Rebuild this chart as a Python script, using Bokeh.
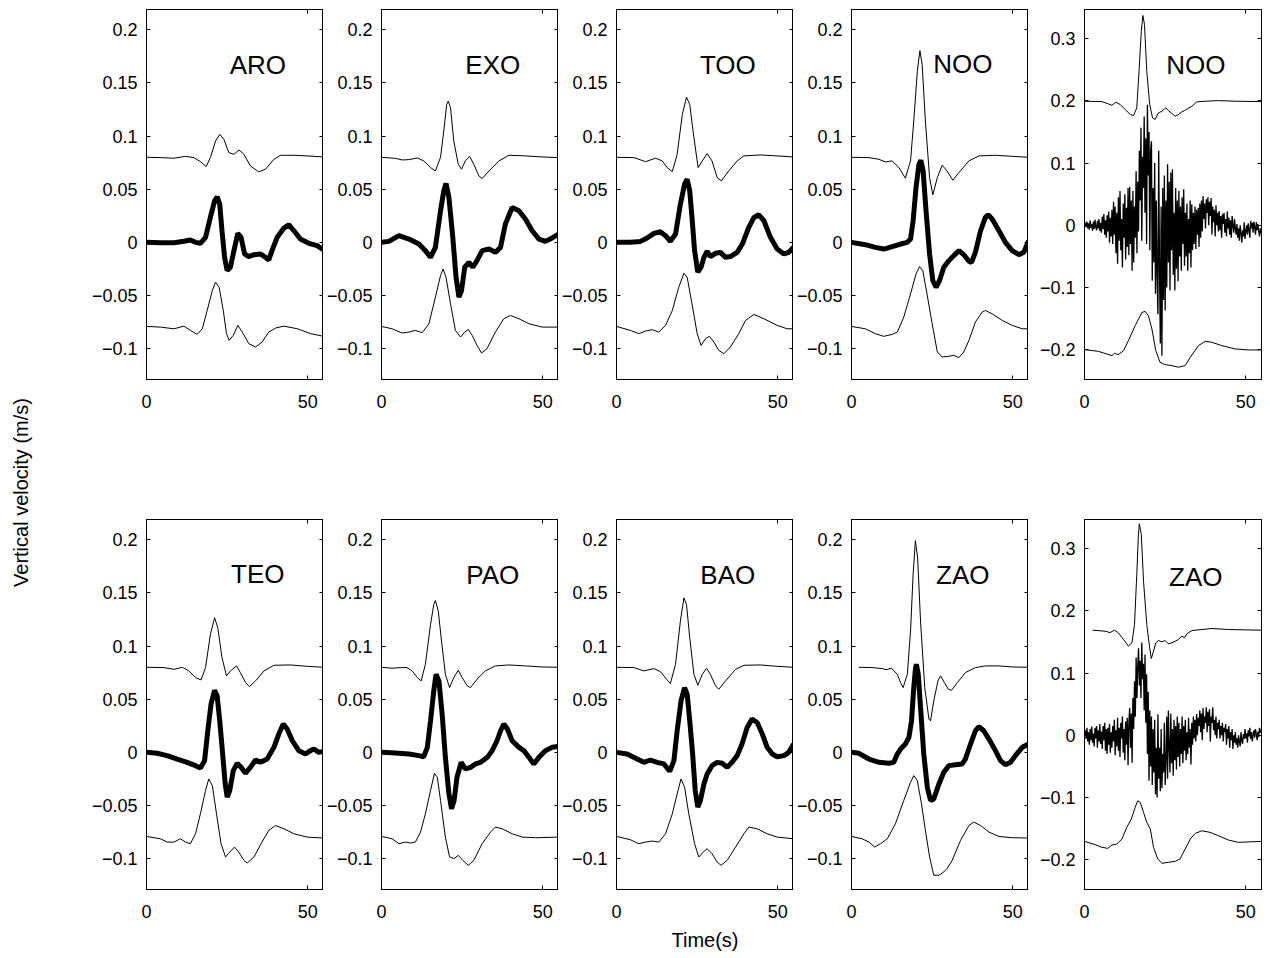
import math
import numpy as np
from bokeh.plotting import figure
from bokeh.layouts import row, column
from bokeh.models import Range1d, FixedTicker, LinearAxis
from bokeh.embed import file_html
from bokeh.resources import INLINE
from bokeh.core.properties import value

FONT = "Liberation Sans"

# ---------------- tick values / labels ----------------
xticks = [0, 50]
xtick_labels = ["0", "50"]
yticks_main = [-0.1, -0.05, 0, 0.05, 0.1, 0.15, 0.2]
ytick_labels_main = ["\u22120.1", "\u22120.05", "0", "0.05", "0.1", "0.15", "0.2"]
yticks_wide = [-0.2, -0.1, 0, 0.1, 0.2, 0.3]
ytick_labels_wide = ["\u22120.2", "\u22120.1", "0", "0.1", "0.2", "0.3"]

# ---------------- ARO ----------------
aro_up_t = [0, 4.3, 8.5, 12.1, 14.7, 16.7, 18.5, 19.8, 21.4, 22.7, 24.0, 25.5, 27.1, 28.7, 30.2, 32.2, 34.8, 36.9, 39.5, 41.5, 45.7, 49.8, 54.9]
aro_up_v = [0.080, 0.0797, 0.0791, 0.0809, 0.0797, 0.0759, 0.0713, 0.0797, 0.0953, 0.1016, 0.0969, 0.0844, 0.0828, 0.0869, 0.0828, 0.0719, 0.0663, 0.0688, 0.0781, 0.0819, 0.0819, 0.0813, 0.0803]
aro_mid_t = [0, 4.3, 8.5, 11.6, 13.6, 15.2, 16.7, 18.3, 19.8, 21.1, 21.9, 22.7, 23.4, 24.2, 25.0, 26.0, 27.1, 28.3, 29.3, 30.4, 31.7, 33.3, 35.3, 36.9, 37.9, 38.9, 40.5, 42.6, 44.1, 45.7, 47.7, 50.3, 52.9, 54.9]
aro_mid_v = [0, -0.0003, -0.0003, 0.001, 0.0022, 0, -0.0009, 0.0047, 0.0234, 0.0391, 0.0428, 0.0359, 0.0109, -0.0141, -0.0266, -0.0234, -0.0078, 0.0084, 0.0047, -0.0109, -0.0134, -0.0116, -0.0109, -0.0141, -0.0166, -0.0078, 0.0047, 0.0134, 0.0166, 0.0109, 0.0031, -0.0009, -0.0031, -0.0072]
aro_lo_t = [0, 4.3, 8.5, 11.6, 13.6, 15.7, 17.3, 18.8, 20.4, 21.4, 22.5, 23.8, 24.8, 25.6, 26.9, 28.3, 29.7, 31.7, 33.8, 35.8, 37.9, 40.0, 42.6, 46.8, 50.9, 54.9]
aro_lo_v = [-0.0791, -0.0797, -0.0813, -0.0788, -0.0828, -0.0866, -0.0813, -0.0641, -0.0453, -0.0375, -0.0422, -0.0641, -0.0859, -0.0922, -0.0875, -0.0781, -0.0844, -0.0953, -0.0984, -0.0938, -0.0844, -0.0806, -0.0788, -0.0813, -0.0859, -0.0884]

# ---------------- EXO ----------------
exo_up_t = [0, 4.3, 6.4, 8.5, 11.1, 13.1, 15.2, 16.7, 18.3, 19.3, 20.2, 20.7, 21.4, 22.4, 23.8, 24.8, 26.0, 27.3, 28.6, 30.2, 31.2, 33.3, 36.4, 39.5, 44.6, 49.8, 54.9]
exo_up_v = [0.080, 0.079, 0.0775, 0.0778, 0.0794, 0.0766, 0.0703, 0.0672, 0.080, 0.1047, 0.1297, 0.1328, 0.1266, 0.0953, 0.0734, 0.0688, 0.0766, 0.0809, 0.0734, 0.0625, 0.060, 0.0672, 0.0766, 0.0819, 0.0813, 0.0803, 0.0797]
exo_mid_t = [0, 2.3, 5.4, 8.5, 11.6, 13.6, 15.2, 16.7, 18.3, 19.3, 20.0, 20.9, 22.1, 23.1, 24.0, 24.8, 25.8, 27.1, 28.3, 29.6, 31.2, 33.3, 35.3, 36.9, 38.4, 40.5, 42.6, 44.6, 46.7, 48.8, 50.8, 52.9, 54.9]
exo_mid_v = [0, 0.0009, 0.0063, 0.0031, -0.0016, -0.0078, -0.0141, -0.0047, 0.0297, 0.0484, 0.0553, 0.0422, 0.0047, -0.0328, -0.0516, -0.0453, -0.0234, -0.0188, -0.0234, -0.0172, -0.0078, -0.0063, -0.0094, -0.0047, 0.0172, 0.0328, 0.0297, 0.0219, 0.0109, 0.0031, 0.0009, 0.0041, 0.0078]
exo_lo_t = [0, 3.3, 6.4, 8.5, 10.5, 12.6, 14.7, 16.7, 18.3, 19.1, 20.0, 21.4, 22.9, 24.5, 25.8, 26.9, 28.1, 29.6, 31.0, 32.7, 35.3, 37.9, 40.0, 42.6, 45.7, 49.8, 54.9]
exo_lo_v = [-0.0791, -0.0813, -0.0853, -0.0844, -0.0828, -0.085, -0.0766, -0.0516, -0.0313, -0.025, -0.0328, -0.0578, -0.0828, -0.0891, -0.0844, -0.0819, -0.0875, -0.0969, -0.1041, -0.1, -0.0844, -0.0719, -0.0688, -0.0719, -0.0766, -0.0797, -0.0797]

# ---------------- TOO ----------------
too_up_t = [0, 5.4, 9.0, 12.1, 14.2, 15.7, 17.3, 18.8, 20.4, 21.7, 22.7, 24.0, 25.3, 26.6, 28.1, 29.6, 31.2, 32.5, 34.8, 37.4, 39.5, 44.6, 49.8, 54.9]
too_up_v = [0.08, 0.0797, 0.0759, 0.0791, 0.0766, 0.0703, 0.0666, 0.0828, 0.1203, 0.1366, 0.1297, 0.0984, 0.0703, 0.0766, 0.0834, 0.0766, 0.0609, 0.0578, 0.0672, 0.0766, 0.0813, 0.0822, 0.0813, 0.0803]
too_mid_t = [0, 4.3, 7.4, 9.5, 11.6, 13.6, 15.2, 16.7, 18.3, 19.8, 21.1, 21.9, 22.7, 23.4, 24.2, 25.2, 26.2, 27.1, 28.1, 29.1, 30.7, 32.2, 33.8, 35.3, 37.4, 39.0, 41.0, 42.6, 44.1, 45.7, 47.7, 49.8, 51.9, 53.4, 54.9]
too_mid_v = [0, 0, 0.0009, 0.0041, 0.0084, 0.01, 0.0063, 0.0009, 0.0078, 0.0359, 0.0547, 0.0594, 0.0484, 0.0234, -0.0078, -0.0281, -0.0234, -0.0141, -0.0084, -0.0134, -0.0103, -0.0094, -0.0141, -0.0134, -0.0094, -0.0016, 0.0141, 0.0234, 0.0259, 0.0203, 0.0047, -0.0063, -0.0109, -0.0094, -0.0047]
too_lo_t = [0, 4.3, 6.9, 9.0, 11.1, 13.1, 15.2, 17.3, 19.3, 20.9, 21.9, 23.4, 25.0, 26.2, 27.6, 28.8, 30.2, 31.7, 33.3, 35.3, 37.9, 40.0, 42.6, 45.7, 49.8, 52.9, 54.9]
too_lo_v = [-0.0791, -0.0828, -0.0859, -0.0834, -0.0822, -0.0844, -0.0781, -0.0641, -0.0422, -0.0291, -0.0328, -0.0578, -0.0859, -0.0969, -0.0906, -0.0884, -0.0938, -0.1016, -0.1047, -0.0984, -0.0859, -0.0734, -0.0678, -0.0719, -0.0781, -0.0813, -0.0813]

# ---------------- NOO ----------------
noo_up_t = [0, 5.4, 8.5, 10.5, 12.6, 14.7, 16.7, 18.3, 19.3, 20.4, 21.2, 21.9, 22.9, 24.2, 25.2, 26.6, 28.1, 29.6, 31.4, 33.3, 36.4, 39.5, 44.6, 49.8, 54.9]
noo_up_v = [0.08, 0.0797, 0.0781, 0.0756, 0.0766, 0.0703, 0.0603, 0.0766, 0.1141, 0.1609, 0.1803, 0.1672, 0.1141, 0.0609, 0.0447, 0.0609, 0.0725, 0.0672, 0.0584, 0.0656, 0.0766, 0.0813, 0.0819, 0.0809, 0.08]
noo_mid_t = [0, 4.3, 7.4, 10.0, 12.6, 15.2, 17.3, 18.3, 19.1, 20.0, 20.9, 21.5, 22.2, 23.1, 24.2, 25.2, 26.2, 27.3, 28.6, 30.2, 31.7, 33.3, 34.8, 36.4, 37.2, 38.4, 40.0, 41.5, 42.4, 43.6, 45.7, 47.7, 49.8, 51.9, 53.4, 54.9]
noo_mid_v = [0, -0.0022, -0.0047, -0.0063, -0.0041, -0.0016, 0, 0.0031, 0.0203, 0.0516, 0.0734, 0.0772, 0.0672, 0.0297, -0.0109, -0.0359, -0.0422, -0.0359, -0.0234, -0.0172, -0.0125, -0.0078, -0.0116, -0.0178, -0.0188, -0.0094, 0.0109, 0.0234, 0.0259, 0.0219, 0.0109, 0, -0.0078, -0.0116, -0.0094, 0.0016]
noo_lo_t = [0, 4.3, 7.4, 10.0, 12.6, 14.2, 16.2, 18.3, 20.0, 21.1, 22.1, 23.4, 25.0, 26.6, 28.1, 30.2, 31.7, 33.3, 34.8, 36.4, 38.4, 40.5, 41.5, 43.6, 46.7, 49.8, 52.9, 54.9]
noo_lo_v = [-0.0791, -0.0813, -0.0859, -0.0884, -0.0866, -0.0844, -0.0703, -0.0484, -0.0297, -0.0228, -0.0266, -0.0484, -0.0766, -0.1031, -0.1078, -0.1072, -0.1063, -0.1084, -0.1031, -0.0922, -0.075, -0.0656, -0.0641, -0.0672, -0.0734, -0.0781, -0.0813, -0.0813]

# ---------------- NOO (raw record, right column) ----------------
noor_up_t = [0, 5.4, 7.4, 8.5, 9.7, 11.1, 12.6, 14.2, 15.2, 16.2, 16.9, 17.6, 18.1, 18.6, 19.3, 20.2, 21.1, 21.9, 22.9, 24.0, 25.2, 26.0, 26.9, 28.1, 29.1, 30.2, 31.0, 32.0, 33.3, 34.8, 37.4, 41.5, 46.7, 54.9]
noor_up_v = [0.1995, 0.1989, 0.1952, 0.1930, 0.1979, 0.1941, 0.1861, 0.1781, 0.1765, 0.1888, 0.2476, 0.3118, 0.3374, 0.3225, 0.2476, 0.1941, 0.1727, 0.1701, 0.1807, 0.1834, 0.1888, 0.1845, 0.1807, 0.1754, 0.1781, 0.1824, 0.1845, 0.1877, 0.1914, 0.1984, 0.1995, 0.2005, 0.1995, 0.1989]
noor_dt = 0.25
noor_mid_mms = [0, 4, -3, 6, -5, 3, -7, 8, -4, 2, -9, 6, -6, 9, -3, -8, 7, -5, 10, -9, 4,
                -12, 14, -6, 18, -15, 8, -20, 16, -10, 22, -28, 12, -18, 25,
                -30, 38, -15, 30, -45, 20, -62, 45, -25, 55, -40, 10, -68, 35, -20, 50, -55, 28, -35, 60,
                -48, 62, -30, 40, -73, 55, -60, 30, -20, 87, -45, 70,
                -10, 120, 40, 157, -25, 110, 60, 175, 20, 140, -30, 194, 80, 150, -40, 120,
                135, -89, 60, -60, 100, -110, 40, -80,
                -143, 120, -70, -190, 30, -210, 60, -120, 80, -137,
                40, -100, 98, -60, 70, -105, 85, -40, 90, -80, 20, -105, 60, -70, 40, -90,
                55, -50, 30, -73, 45, -30, 58, -65, 20, -50, 35, -73, 10, -45, 40, -68,
                34, -40, 20, -30, 30, -38, 25, -15, 28, -35, 35, -20, 40, -10,
                47, 10, 35, -5, 42, 20, 45, 0, 38, 15, 44, -15, 30, 5, 25, -18, 32, 0, 20, -10,
                23, -8, 15, -20, 18, 2, 20, -12, 10, -18, 22, -5, 12, -15, 8, -20, 15, 0, -12, 10, -5,
                -15, 2, -20, -5, -25, 0, -12, -28, -8, -18, 5, -22, -10, 0, -15, 3, -8, -20, 7, -5, 4, -12, 6, -3, -15, 5, -8, 2, -10, -18, -5, -12, -8]
noor_lo_t = [0, 4.3, 6.9, 8.5, 9.3, 10.5, 12.1, 13.6, 15.7, 17.8, 18.8, 19.8, 20.9, 22.1, 23.4, 25.0, 27.1, 29.1, 31.2, 32.8, 35.3, 37.4, 39.5, 42.6, 46.7, 50.8, 54.9]
noor_lo_v = [-0.2, -0.2027, -0.207, -0.2096, -0.2059, -0.208, -0.2016, -0.1856, -0.1615, -0.1401, -0.1385, -0.1455, -0.1668, -0.2016, -0.2203, -0.2241, -0.2257, -0.2283, -0.2257, -0.2123, -0.1936, -0.1866, -0.1882, -0.1936, -0.1989, -0.2005, -0.2005]

# ---------------- TEO ----------------
teo_up_t = [0, 5.4, 8.5, 11.1, 13.1, 15.2, 16.9, 18.3, 19.8, 21.1, 22.1, 23.4, 24.8, 26.0, 27.9, 29.1, 30.7, 31.9, 33.8, 36.4, 39.5, 44.6, 49.8, 54.9]
teo_up_v = [0.08, 0.0797, 0.0781, 0.08, 0.0766, 0.0703, 0.0681, 0.0797, 0.1109, 0.1266, 0.1172, 0.0891, 0.0719, 0.0766, 0.0813, 0.075, 0.0656, 0.0619, 0.0672, 0.0766, 0.0819, 0.0822, 0.0809, 0.08]
teo_mid_t = [0, 3.3, 6.4, 9.5, 12.6, 15.2, 16.7, 18.0, 19.0, 20.0, 21.1, 21.9, 22.7, 23.6, 24.4, 25.0, 25.8, 26.9, 28.1, 29.3, 30.7, 32.2, 33.8, 35.3, 37.4, 39.5, 41.0, 42.4, 43.6, 45.2, 47.2, 49.3, 50.8, 51.9, 53.4, 54.9]
teo_mid_v = [0, -0.0009, -0.0031, -0.0063, -0.0094, -0.0125, -0.0147, -0.0078, 0.0203, 0.0453, 0.0584, 0.0531, 0.0297, -0.0016, -0.0297, -0.0422, -0.0359, -0.0172, -0.0103, -0.0141, -0.0197, -0.0141, -0.0072, -0.0094, -0.0063, 0.0047, 0.0172, 0.0266, 0.0219, 0.0109, 0.0016, -0.0016, 0.0016, 0.0031, 0, 0.0009]
teo_lo_t = [0, 4.3, 6.4, 8.5, 10.5, 12.1, 13.6, 15.2, 16.7, 18.3, 19.3, 20.4, 21.7, 23.1, 24.5, 25.8, 27.3, 28.6, 30.2, 31.2, 33.3, 35.8, 37.9, 40.0, 42.6, 45.7, 49.8, 54.9]
teo_lo_v = [-0.0791, -0.0813, -0.0844, -0.0844, -0.0813, -0.0844, -0.0859, -0.0766, -0.0578, -0.0359, -0.025, -0.0313, -0.0578, -0.0859, -0.0984, -0.0938, -0.0891, -0.0938, -0.1016, -0.1041, -0.0984, -0.0844, -0.0734, -0.0688, -0.0719, -0.0766, -0.0797, -0.0806]

# ---------------- PAO ----------------
pao_up_t = [0, 3.3, 5.9, 7.9, 9.5, 11.1, 12.3, 13.6, 15.2, 16.2, 16.7, 17.6, 18.6, 19.8, 21.1, 22.4, 23.8, 25.0, 26.6, 27.6, 29.6, 32.2, 35.3, 39.5, 44.6, 49.8, 54.9]
pao_up_v = [0.08, 0.0791, 0.0797, 0.0797, 0.0766, 0.0703, 0.0672, 0.0828, 0.1203, 0.1391, 0.1428, 0.1328, 0.1047, 0.0734, 0.0609, 0.0703, 0.0772, 0.0703, 0.0625, 0.0609, 0.0688, 0.0766, 0.0813, 0.0822, 0.0813, 0.0803, 0.08]
pao_mid_t = [0, 4.3, 8.5, 11.6, 13.1, 14.2, 15.2, 16.2, 16.9, 17.8, 18.8, 19.8, 20.9, 21.7, 22.5, 23.4, 24.7, 26.0, 27.6, 29.1, 30.7, 32.8, 34.3, 35.8, 36.9, 37.9, 39.0, 40.5, 42.6, 44.1, 45.7, 47.2, 48.8, 50.8, 52.9, 54.9]
pao_mid_v = [0, -0.0006, -0.0016, -0.0031, -0.0041, 0.0047, 0.0297, 0.0578, 0.0734, 0.0672, 0.0359, -0.0047, -0.0391, -0.0531, -0.0453, -0.0234, -0.0094, -0.0156, -0.0141, -0.0109, -0.0094, -0.0047, 0.0016, 0.0109, 0.0203, 0.0266, 0.0219, 0.0109, 0.0047, 0.0016, -0.0047, -0.0109, -0.0047, 0.0016, 0.0047, 0.0056]
pao_lo_t = [0, 3.3, 5.4, 7.4, 9.0, 10.5, 12.1, 13.6, 15.2, 16.4, 17.3, 18.3, 19.8, 21.1, 22.4, 23.8, 25.2, 26.9, 28.6, 31.2, 33.8, 35.3, 37.4, 40.5, 43.6, 47.7, 54.9]
pao_lo_v = [-0.0791, -0.0813, -0.0859, -0.0844, -0.0853, -0.0844, -0.075, -0.0578, -0.0359, -0.0197, -0.0234, -0.0453, -0.0797, -0.0984, -0.1, -0.0969, -0.1016, -0.1063, -0.1016, -0.0859, -0.075, -0.0703, -0.0719, -0.0766, -0.0797, -0.0803, -0.0797]

# ---------------- BAO ----------------
bao_up_t = [0, 5.4, 8.5, 11.6, 13.6, 15.5, 16.7, 18.3, 19.8, 20.9, 21.7, 22.7, 24.0, 25.2, 26.6, 27.9, 29.1, 30.7, 31.7, 33.8, 36.9, 39.5, 44.6, 49.8, 54.9]
bao_up_v = [0.08, 0.0797, 0.0766, 0.0788, 0.0759, 0.0688, 0.0647, 0.0828, 0.1234, 0.1453, 0.1391, 0.1078, 0.0734, 0.0631, 0.0734, 0.0791, 0.0734, 0.0625, 0.0594, 0.0672, 0.0781, 0.0819, 0.0822, 0.0809, 0.08]
bao_mid_t = [0, 3.3, 6.4, 8.5, 10.5, 12.6, 14.7, 16.5, 17.8, 18.8, 20.0, 21.1, 21.9, 22.7, 23.6, 24.4, 25.2, 26.0, 27.1, 28.1, 29.6, 31.2, 32.8, 34.3, 35.8, 37.4, 38.9, 40.5, 42.0, 43.6, 45.2, 46.7, 48.3, 49.8, 51.9, 53.4, 54.9]
bao_mid_v = [0, -0.0016, -0.0063, -0.0094, -0.0072, -0.0094, -0.0109, -0.0178, -0.0078, 0.0203, 0.0484, 0.0609, 0.0547, 0.0297, -0.0016, -0.0359, -0.0516, -0.0453, -0.0297, -0.0203, -0.0125, -0.0094, -0.0103, -0.0141, -0.0094, -0.0031, 0.0078, 0.0234, 0.0313, 0.0281, 0.0172, 0.0047, -0.0016, -0.0041, -0.0031, 0, 0.0078]
bao_lo_t = [0, 4.3, 6.9, 9.0, 11.1, 13.1, 15.2, 17.3, 18.8, 20.0, 21.1, 22.4, 24.2, 25.5, 26.9, 28.1, 29.6, 31.2, 32.4, 34.3, 36.9, 39.5, 41.0, 43.6, 46.7, 49.8, 54.9]
bao_lo_v = [-0.0791, -0.0822, -0.0859, -0.0844, -0.0834, -0.0844, -0.0766, -0.0578, -0.0391, -0.025, -0.0328, -0.0578, -0.0859, -0.0984, -0.0938, -0.0906, -0.0953, -0.1031, -0.1063, -0.1016, -0.0891, -0.0766, -0.0703, -0.0719, -0.0766, -0.0797, -0.0813]

# ---------------- ZAO ----------------
zao_up_t = [2.3, 6.4, 9.5, 10.7, 12.4, 14.2, 15.2, 16.0, 17.3, 18.3, 19.1, 19.8, 20.5, 21.4, 22.7, 24.0, 24.5, 25.5, 26.8, 27.6, 28.8, 30.0, 31.0, 32.8, 35.3, 38.4, 41.5, 45.7, 49.8, 54.9]
zao_up_v = [0.08, 0.0797, 0.0788, 0.0778, 0.0791, 0.0734, 0.0656, 0.0609, 0.0734, 0.1141, 0.1672, 0.1991, 0.1828, 0.1234, 0.0609, 0.0313, 0.0297, 0.0484, 0.0672, 0.0719, 0.0656, 0.0594, 0.0584, 0.0656, 0.075, 0.0797, 0.0813, 0.0813, 0.0803, 0.08]
zao_mid_t = [0, 2.3, 5.4, 8.5, 11.6, 13.1, 14.2, 15.2, 16.7, 17.8, 18.6, 19.3, 19.8, 20.1, 20.7, 21.4, 22.4, 23.5, 24.5, 25.5, 27.1, 28.6, 30.2, 32.2, 34.3, 35.3, 36.9, 38.4, 39.5, 41.0, 42.6, 44.6, 46.2, 47.7, 49.3, 50.8, 52.9, 54.9]
zao_mid_v = [0, -0.0009, -0.0063, -0.0094, -0.0103, -0.0094, -0.0016, 0.0031, 0.0078, 0.0141, 0.0297, 0.0609, 0.0781, 0.0828, 0.0734, 0.0422, -0.0016, -0.0328, -0.0453, -0.0438, -0.0297, -0.0188, -0.0125, -0.0116, -0.0109, -0.0063, 0.0078, 0.0203, 0.0241, 0.0203, 0.0125, 0.0016, -0.0078, -0.0116, -0.0094, -0.0031, 0.0047, 0.0078]
zao_lo_t = [0, 3.3, 5.4, 7.2, 9.0, 11.1, 13.6, 16.2, 18.3, 19.3, 20.4, 21.7, 22.9, 24.2, 25.5, 27.1, 28.6, 29.6, 31.2, 33.8, 36.4, 37.9, 40.0, 42.6, 45.7, 49.8, 54.9]
zao_lo_v = [-0.0791, -0.0813, -0.0844, -0.0891, -0.0859, -0.0813, -0.0672, -0.0453, -0.0281, -0.0219, -0.0266, -0.0484, -0.0734, -0.0984, -0.1156, -0.1156, -0.1125, -0.1094, -0.1016, -0.0828, -0.0688, -0.0656, -0.0688, -0.075, -0.0791, -0.0803, -0.0806]

# ---------------- ZAO (raw record, right column) ----------------
zaor_up_t = [2.5, 6.4, 7.9, 9.3, 10.5, 12.1, 13.6, 14.7, 15.5, 16.2, 16.7, 17.0, 17.6, 18.3, 19.3, 20.2, 20.7, 21.4, 22.1, 22.9, 24.0, 25.0, 26.0, 27.1, 28.1, 29.1, 30.2, 31.0, 31.7, 33.3, 36.4, 39.5, 44.6, 54.9]
zaor_up_v = [0.169, 0.1674, 0.1652, 0.169, 0.1647, 0.154, 0.1433, 0.1487, 0.1781, 0.2583, 0.3225, 0.3401, 0.3225, 0.2476, 0.1781, 0.1406, 0.1235, 0.1353, 0.1487, 0.1524, 0.1503, 0.1524, 0.1471, 0.1487, 0.1513, 0.154, 0.1594, 0.1567, 0.1631, 0.1684, 0.1701, 0.1717, 0.1701, 0.169]
zaor_dt = 0.25
zaor_mid_mms = [0, 8, -6, 12, -10, 5, -15, 10, -8, 14, -12, 3, -18, 12, -5, 15, -20, 8, -10, 18, -14,
                6, -22, 15, -8, 20, -25, 10, -30, 12, -15, 18, -28, 5, -20,
                15, -10, 25, -32, 8, -18, 28, -25, 12, -35, 20, -5, 30, -28, 10, -40, 22, -15, 28, -48,
                20, 44, -20, 35, -44, 60, 10, 87, 30, 125, 60, 110,
                140, 80, 120, 60, 149, 90, 115, 40, 130, 20, 98, -30, 70, -73, 40, -50,
                30, -80, 10, -60, 25, -95, -20, -100,
                34, -70, -20, -90, 10, -85, -30, -60, 20, -80,
                -40, 30, -70, 40, -20, -60, 35, -45, 10, -65, 25, -40, 15, -55, 30, -35,
                20, -50, 10, -30, 30, -45, 15, -25, 25, -40, 5, -30, 28, -20, 10, -47,
                20, -15, 30, -5, 25, -10, 34, 0, 28, 15, 40, 5, 35, -8,
                44, 10, 30, 20, 45, 5, 38, 15, 42, -10, 30, 20, 45, 8, 25, 0, 30, -5, 20, 10,
                25, -5, 15, 0, 20, -10, 12, 5, 18, -15, 10, -5, 15, -20, 5, -8, 10, -22, 0, -12, 5,
                -15, -5, -20, 0, -10, -18, 5, -8, -14, 2, -6, 10, -5, 3, -12, 8, -2, 12, -6, 5, -10, 0, 8, -4, 10, 2, -8, 6, -3, 12, 4, 8, 7]
zaor_lo_t = [0, 3.3, 5.4, 7.2, 8.5, 10.0, 11.6, 13.1, 14.5, 15.7, 16.5, 17.3, 18.3, 19.3, 20.4, 21.4, 22.7, 24.0, 26.0, 28.1, 29.6, 31.2, 32.8, 34.3, 36.4, 38.9, 41.5, 44.6, 47.7, 54.9]
zaor_lo_v = [-0.1706, -0.1759, -0.1802, -0.1818, -0.1765, -0.1749, -0.1668, -0.1481, -0.1348, -0.116, -0.1053, -0.108, -0.1241, -0.1401, -0.1508, -0.1802, -0.1989, -0.2059, -0.2043, -0.2027, -0.1989, -0.1829, -0.1668, -0.1578, -0.1535, -0.1561, -0.1615, -0.1684, -0.1722, -0.1706]


def sampled(vals_mms, dt):
    v = np.asarray(vals_mms, dtype=float) / 1000.0
    t = np.arange(len(v)) * dt
    return list(t), list(v)


noor_mid_t, noor_mid_v = sampled(noor_mid_mms, noor_dt)
zaor_mid_t, zaor_mid_v = sampled(zaor_mid_mms, zaor_dt)

# ---------------- layout constants ----------------
TICK_FS = "18px"
LABEL_FS = "20px"
NAME_FS = "26px"
FRAME_W, FRAME_H = 177, 370
XR = (0, 54.86)
YR_MAIN = (-0.129, 0.219)
YR_WIDE = (-0.248, 0.347)
TOP_TOP_BORDER = 9
TOP_BOTTOM_BORDER = 138
BOT_TOP_BORDER = 2
BOTTOM_BOTTOM_BORDER = 66
LABEL_COL_W = 48
GAP_LEFT = 56


def style_axis(ax, ticks, labels=None):
    ax.ticker = FixedTicker(ticks=ticks, minor_ticks=[])
    ax.major_tick_in = 4
    ax.major_tick_out = 0
    ax.minor_tick_in = 0
    ax.minor_tick_out = 0
    ax.axis_line_color = "black"
    ax.axis_line_width = 1
    ax.major_tick_line_color = "black"
    if labels is None:
        ax.major_label_text_font_size = "0px"
        ax.major_label_text_color = None
        ax.major_label_standoff = 0
    else:
        ax.major_label_overrides = dict(zip(ticks, labels))
        ax.major_label_text_font = FONT
        ax.major_label_text_font_size = TICK_FS
        ax.major_label_text_color = "black"


def make_panel(name, name_y, curves, thick, wide, first, last, bottom, xlabel=None):
    yr = YR_WIDE if wide else YR_MAIN
    yt, yl = (yticks_wide, ytick_labels_wide) if wide else (yticks_main, ytick_labels_main)
    p = figure(x_range=Range1d(*XR), y_range=Range1d(*yr),
               frame_width=FRAME_W, frame_height=FRAME_H,
               output_backend="svg", toolbar_location=None, tools="",
               min_border_left=146 - LABEL_COL_W if first else GAP_LEFT,
               min_border_right=2 if last else 0,
               min_border_top=BOT_TOP_BORDER if bottom else TOP_TOP_BORDER,
               min_border_bottom=BOTTOM_BOTTOM_BORDER if bottom else TOP_BOTTOM_BORDER)
    p.grid.visible = False
    p.outline_line_color = "black"
    p.outline_line_width = 1
    p.background_fill_color = "white"
    p.border_fill_color = "white"

    style_axis(p.below[0], xticks, xtick_labels)
    p.below[0].major_label_standoff = 15
    style_axis(p.left[0], yt, yl)
    p.left[0].major_label_standoff = 9

    right = LinearAxis()
    style_axis(right, yt)
    p.add_layout(right, "right")
    top = LinearAxis()
    style_axis(top, xticks)
    p.add_layout(top, "above")

    if xlabel:
        ax = p.below[0]
        ax.axis_label = xlabel
        ax.axis_label_text_font = FONT
        ax.axis_label_text_font_size = LABEL_FS
        ax.axis_label_text_font_style = "normal"
        ax.axis_label_text_color = "black"
        ax.axis_label_standoff = 8

    for i, (t, v) in enumerate(curves):
        lw = 1.0
        if i == 1:
            lw = 1.3 if not thick else 5.0
        p.line(t, v, line_color="black", line_width=lw)

    p.text(x=[34.5], y=[name_y], text=[name], text_font=value(FONT),
           text_font_size=NAME_FS, text_align="center", text_baseline="middle",
           text_color="black")
    return p


top_row = [
    make_panel("ARO", 0.167, [(aro_up_t, aro_up_v), (aro_mid_t, aro_mid_v), (aro_lo_t, aro_lo_v)], True, False, True, False, False),
    make_panel("EXO", 0.167, [(exo_up_t, exo_up_v), (exo_mid_t, exo_mid_v), (exo_lo_t, exo_lo_v)], True, False, False, False, False),
    make_panel("TOO", 0.167, [(too_up_t, too_up_v), (too_mid_t, too_mid_v), (too_lo_t, too_lo_v)], True, False, False, False, False),
    make_panel("NOO", 0.168, [(noo_up_t, noo_up_v), (noo_mid_t, noo_mid_v), (noo_lo_t, noo_lo_v)], True, False, False, False, False),
    make_panel("NOO", 0.257, [(noor_up_t, noor_up_v), (noor_mid_t, noor_mid_v), (noor_lo_t, noor_lo_v)], False, True, False, True, False),
]
bottom_row = [
    make_panel("TEO", 0.168, [(teo_up_t, teo_up_v), (teo_mid_t, teo_mid_v), (teo_lo_t, teo_lo_v)], True, False, True, False, True),
    make_panel("PAO", 0.167, [(pao_up_t, pao_up_v), (pao_mid_t, pao_mid_v), (pao_lo_t, pao_lo_v)], True, False, False, False, True),
    make_panel("BAO", 0.167, [(bao_up_t, bao_up_v), (bao_mid_t, bao_mid_v), (bao_lo_t, bao_lo_v)], True, False, False, False, True, xlabel="Time(s)"),
    make_panel("ZAO", 0.167, [(zao_up_t, zao_up_v), (zao_mid_t, zao_mid_v), (zao_lo_t, zao_lo_v)], True, False, False, False, True),
    make_panel("ZAO", 0.254, [(zaor_up_t, zaor_up_v), (zaor_mid_t, zaor_mid_v), (zaor_lo_t, zaor_lo_v)], False, True, False, True, True),
]

total_h = (TOP_TOP_BORDER + FRAME_H + TOP_BOTTOM_BORDER) + (BOT_TOP_BORDER + FRAME_H + BOTTOM_BOTTOM_BORDER)
lab = figure(x_range=Range1d(0, LABEL_COL_W), y_range=Range1d(0, total_h),
             frame_width=LABEL_COL_W, frame_height=total_h,
             output_backend="svg", toolbar_location=None, tools="",
             x_axis_location=None, y_axis_location=None,
             min_border_left=0, min_border_right=0, min_border_top=0, min_border_bottom=0)
lab.grid.visible = False
lab.outline_line_color = None
lab.border_fill_color = "white"
lab.background_fill_color = "white"
lab.text(x=[20], y=[total_h - 492], text=["Vertical velocity (m/s)"], angle=math.pi / 2,
         text_font=value(FONT), text_font_size=LABEL_FS, text_align="center",
         text_baseline="middle", text_color="black")

layout = row(lab, column(row(*top_row), row(*bottom_row)))

open("out.html", "w").write(file_html(layout, INLINE, title="Vertical velocity"))
